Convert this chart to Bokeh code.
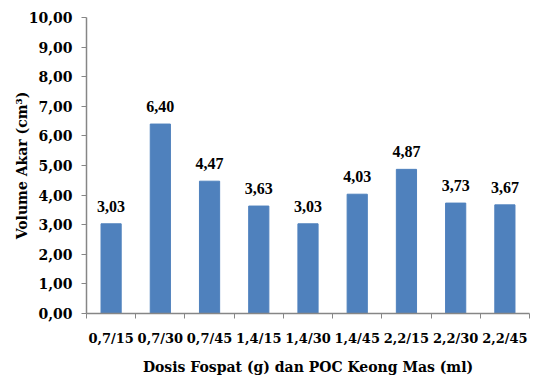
import numpy as np
from bokeh.plotting import figure
from bokeh.models import ColumnDataSource, FixedTicker, Range1d, LabelSet
from bokeh.embed import file_html
from bokeh.resources import INLINE

categories = ["0,7/15", "0,7/30", "0,7/45", "1,4/15", "1,4/30", "1,4/45", "2,2/15", "2,2/30", "2,2/45"]
values = [3.03, 6.40, 4.47, 3.63, 3.03, 4.03, 4.87, 3.73, 3.67]
y_ticks = [0, 1, 2, 3, 4, 5, 6, 7, 8, 9, 10]

n = len(categories)
xc = np.arange(n) + 0.5
labels = [f"{v:.2f}".replace(".", ",") for v in values]
src = ColumnDataSource(dict(x=xc, top=values, lab=labels))

FONT = "DejaVu Serif"

p = figure(width=534, height=378, output_backend="svg", toolbar_location=None,
           x_range=Range1d(0, n), y_range=Range1d(0, 10),
           min_border_left=86, min_border_right=5, min_border_top=17, min_border_bottom=65)
p.outline_line_color = None
p.xgrid.grid_line_color = None
p.ygrid.grid_line_color = None

p.vbar(x="x", top="top", width=0.41, bottom=0, source=src,
       fill_color="#4F81BD", line_color="#4F81BD")

p.add_layout(LabelSet(x="x", y="top", text="lab", source=src, text_align="center",
                      text_baseline="bottom", y_offset=12, text_font=FONT,
                      text_font_style="bold", text_font_size="16px", text_color="#000000"))

axis_color = "#868686"
# x axis
xa = p.xaxis[0]
xa.ticker = FixedTicker(ticks=list(xc), minor_ticks=list(range(n + 1)))
xa.major_label_overrides = {float(x): c for x, c in zip(xc, categories)}
xa.major_tick_out = 0
xa.major_tick_in = 0
xa.minor_tick_out = 5
xa.minor_tick_in = 0
xa.minor_tick_line_color = axis_color
xa.axis_line_color = axis_color
xa.axis_line_width = 1.5
xa.major_label_standoff = 12
xa.major_label_text_font = FONT
xa.major_label_text_font_style = "bold"
xa.major_label_text_font_size = "13px"
xa.major_label_text_color = "#000000"
xa.axis_label = "Dosis Fospat (g) dan POC Keong Mas (ml)"
xa.axis_label_text_font = FONT
xa.axis_label_text_font_style = "bold"
xa.axis_label_text_font_size = "14px"
xa.axis_label_text_color = "#000000"
xa.axis_label_standoff = 10

# y axis
ya = p.yaxis[0]
ya.ticker = FixedTicker(ticks=y_ticks)
ya.major_label_overrides = {t: f"{t:.2f}".replace(".", ",") for t in y_ticks}
ya.major_tick_out = 5
ya.major_tick_in = 0
ya.minor_tick_out = 0
ya.minor_tick_in = 0
ya.major_tick_line_color = axis_color
ya.axis_line_color = axis_color
ya.axis_line_width = 1.5
ya.major_label_standoff = 9
ya.major_label_text_font = FONT
ya.major_label_text_font_style = "bold"
ya.major_label_text_font_size = "14px"
ya.major_label_text_color = "#000000"
ya.axis_label = "Volume Akar (cm³)"
ya.axis_label_text_font = FONT
ya.axis_label_text_font_style = "bold"
ya.axis_label_text_font_size = "14px"
ya.axis_label_text_color = "#000000"
ya.axis_label_standoff = -4

open("out.html", "w").write(file_html(p, INLINE))
